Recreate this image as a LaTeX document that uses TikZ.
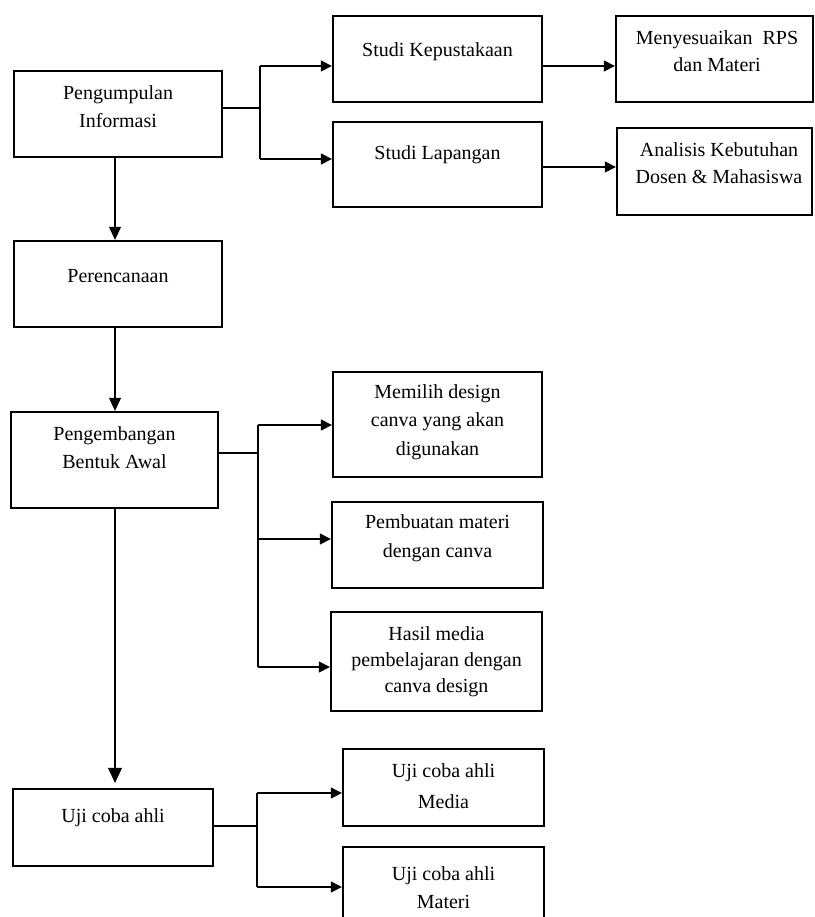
\documentclass[tikz,border=0pt]{standalone}
\usepackage{fontspec}
\setmainfont{Liberation Serif}
\usetikzlibrary{arrows.meta}
\begin{document}
\begin{tikzpicture}[x=1pt,y=-1pt,
  box/.style={draw=black,line width=2.3pt,rectangle,inner sep=0pt},
  txt/.style={align=center,inner sep=0pt,anchor=base,font=\fontsize{20}{28}\selectfont},
  conn/.style={draw=black,line width=1.1pt},
  arr/.style={conn,-{Triangle[length=11pt,width=11pt]}},
  darr/.style={conn,-{Triangle[length=13pt,width=12pt]}}]
\clip (0,0) rectangle (814,917);
\fill[white] (0,0) rectangle (814,917);
% boxes
\node[box,minimum width=208pt,minimum height=86pt] (A) at (118,114) {};
\node[box,minimum width=209pt,minimum height=86pt] (B) at (437.5,59) {};
\node[box,minimum width=209pt,minimum height=85pt] (C) at (437.5,164.5) {};
\node[box,minimum width=197pt,minimum height=86pt] (D) at (714.5,59) {};
\node[box,minimum width=195pt,minimum height=87pt] (E) at (714.5,171.5) {};
\node[box,minimum width=208pt,minimum height=86pt] (F) at (118,284) {};
\node[box,minimum width=207pt,minimum height=96pt] (G) at (114.5,460) {};
\node[box,minimum width=209pt,minimum height=105pt] (H) at (437.5,424.5) {};
\node[box,minimum width=211pt,minimum height=86pt] (I) at (437.5,545) {};
\node[box,minimum width=211pt,minimum height=99pt] (J) at (436.5,661.5) {};
\node[box,minimum width=200pt,minimum height=77pt] (K) at (113,827.5) {};
\node[box,minimum width=201pt,minimum height=77pt] (L) at (443.5,787.5) {};
\node[box,minimum width=201pt,minimum height=88pt] (M) at (443.5,891) {};
% texts (anchor = baseline of the last line)
\node[txt] (At) at (118,128) {Pengumpulan\\Informasi};
\node[txt] (Bt) at (437.5,57) {Studi Kepustakaan};
\node[txt] (Ct) at (437.5,160) {Studi Lapangan};
\node[txt,font=\fontsize{20}{27}\selectfont] (Dt) at (717,72) {Menyesuaikan\ \ RPS\\dan Materi};
\node[txt,font=\fontsize{20}{27}\selectfont] (Et) at (719,184) {Analisis Kebutuhan\\Dosen \& Mahasiswa};
\node[txt] (Ft) at (118,282) {Perencanaan};
\node[txt] (Gt) at (114.5,468) {Pengembangan\\Bentuk Awal};
\node[txt,font=\fontsize{20}{28.5}\selectfont] (Ht) at (437.5,455) {Memilih design\\canva yang akan\\digunakan};
\node[txt,font=\fontsize{20}{29}\selectfont] (It) at (437.5,557) {Pembuatan materi\\dengan canva};
\node[txt,font=\fontsize{20}{26}\selectfont] (Jt) at (436.5,692) {Hasil media\\pembelajaran dengan\\canva design};
\node[txt] (Kt) at (113,822) {Uji coba ahli};
\node[txt,font=\fontsize{20}{31}\selectfont] (Lt) at (443.5,808) {Uji coba ahli\\Media};
\node[txt] (Mt) at (443.5,908) {Uji coba ahli\\Materi};
% junction coordinates
\coordinate (jA) at (260,108);
\coordinate (jAt) at (260,66);
\coordinate (jAb) at (260,159);
\coordinate (yCE) at (0,167);
\coordinate (vx) at (115,0);
\coordinate (jG) at (258,453);
\coordinate (jGt) at (258,425);
\coordinate (jGm) at (258,539);
\coordinate (jGb) at (258,667);
\coordinate (jK) at (257,826);
\coordinate (jKt) at (257,793);
\coordinate (jKb) at (257,887);
% connectors top
\draw[conn] (jA -| A.east) -- (jA);
\draw[conn] (jAt) -- (jAb);
\draw[arr] (jAt) -- (jAt -| B.west);
\draw[arr] (jAb) -- (jAb -| C.west);
\draw[arr] (jAt -| B.east) -- (jAt -| D.west);
\draw[arr] (yCE -| C.east) -- (yCE -| E.west);
% vertical
\draw[darr] (vx |- A.south) -- (vx |- F.north);
\draw[darr] (vx |- F.south) -- (vx |- G.north);
\draw[conn,-{Triangle[length=15pt,width=14pt]},shorten >=5pt] (vx |- G.south) -- (vx |- K.north);
% middle branch
\draw[conn] (jG -| G.east) -- (jG);
\draw[conn] (jGt) -- (jGb);
\draw[arr] (jGt) -- (jGt -| H.west);
\draw[arr] (jGm) -- (jGm -| I.west);
\draw[arr] (jGb) -- (jGb -| J.west);
% bottom branch
\draw[conn] (jK -| K.east) -- (jK);
\draw[conn] (jKt) -- (jKb);
\draw[arr] (jKt) -- (jKt -| L.west);
\draw[arr] (jKb) -- (jKb -| M.west);
\end{tikzpicture}
\end{document}
